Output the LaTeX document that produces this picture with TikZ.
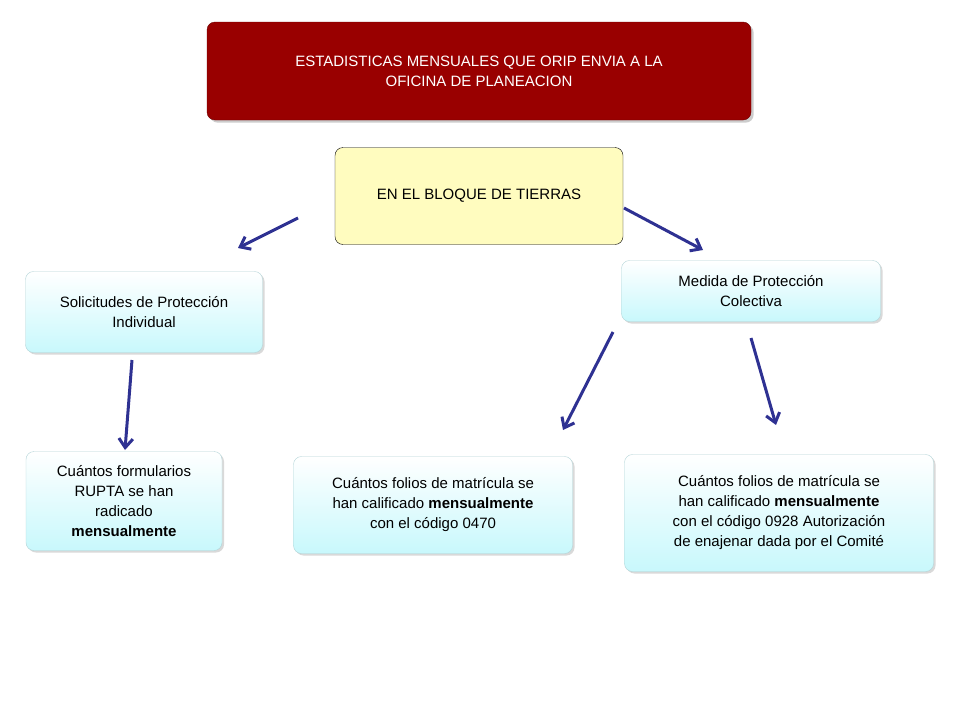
\documentclass[tikz,border=0pt]{standalone}
\usepackage{fontspec}
\setmainfont{Liberation Sans}
\usetikzlibrary{arrows.meta,shadows}
\definecolor{titlered}{HTML}{990000}
\definecolor{navyarrow}{HTML}{2E3192}
\definecolor{lightcyan}{HTML}{C8F8FC}
\tikzset{
  base/.style={rounded corners=8pt,align=center,font=\fontsize{15}{20}\selectfont,inner sep=4pt},
  titlebox/.style={base,fill=titlered,draw=titlered!70!black,text=white,drop shadow={opacity=0.4}},
  centerbox/.style={base,fill=yellow!25,draw=black},
  cyanbox/.style={base,top color=white,bottom color=lightcyan,draw=lightcyan!70!gray,drop shadow={opacity=0.3,shadow xshift=2pt,shadow yshift=-2pt}},
  conn/.style={navyarrow,line width=3pt,-{Straight Barb[length=9pt,width=14pt]}}
}
\begin{document}
\begin{tikzpicture}[x=1pt,y=-1pt]
\useasboundingbox (0,0) rectangle (960,720);
\node[titlebox,minimum width=544pt,minimum height=98pt] (title) at (479,71) {ESTADISTICAS MENSUALES QUE ORIP ENVIA A LA\\OFICINA DE PLANEACION};
\node[centerbox,minimum width=288pt,minimum height=97pt] (center) at (479,196) {EN EL BLOQUE DE TIERRAS};
\node[cyanbox,minimum width=237pt,minimum height=81pt] (left) at (144,312) {Solicitudes de Protección\\Individual};
\node[cyanbox,minimum width=259pt,minimum height=61pt] (right) at (751,291) {Medida de Protección\\Colectiva};
\node[cyanbox,minimum width=196pt,minimum height=99pt] (bl) at (124,501) {Cuántos formularios\\RUPTA se han\\radicado\\\textbf{mensualmente}};
\node[cyanbox,minimum width=279pt,minimum height=97pt] (bm) at (433,505) {Cuántos folios de matrícula se\\han calificado \textbf{mensualmente}\\con el código 0470};
\node[cyanbox,minimum width=309pt,minimum height=117pt] (br) at (779,513) {Cuántos folios de matrícula se\\han calificado \textbf{mensualmente}\\con el código 0928 Autorización\\de enajenar dada por el Comité};
\coordinate (a1s) at (298,218); \coordinate (a1e) at (238,248);
\coordinate (a2s) at (624,208); \coordinate (a2e) at (703,250);
\coordinate (a3s) at (132,360); \coordinate (a3e) at (125,450);
\coordinate (a4s) at (613,332); \coordinate (a4e) at (563,430);
\coordinate (a5s) at (751,338); \coordinate (a5e) at (776,425);
\foreach \i in {1,...,5} \draw[conn] (a\i s) -- (a\i e);
\end{tikzpicture}
\end{document}
